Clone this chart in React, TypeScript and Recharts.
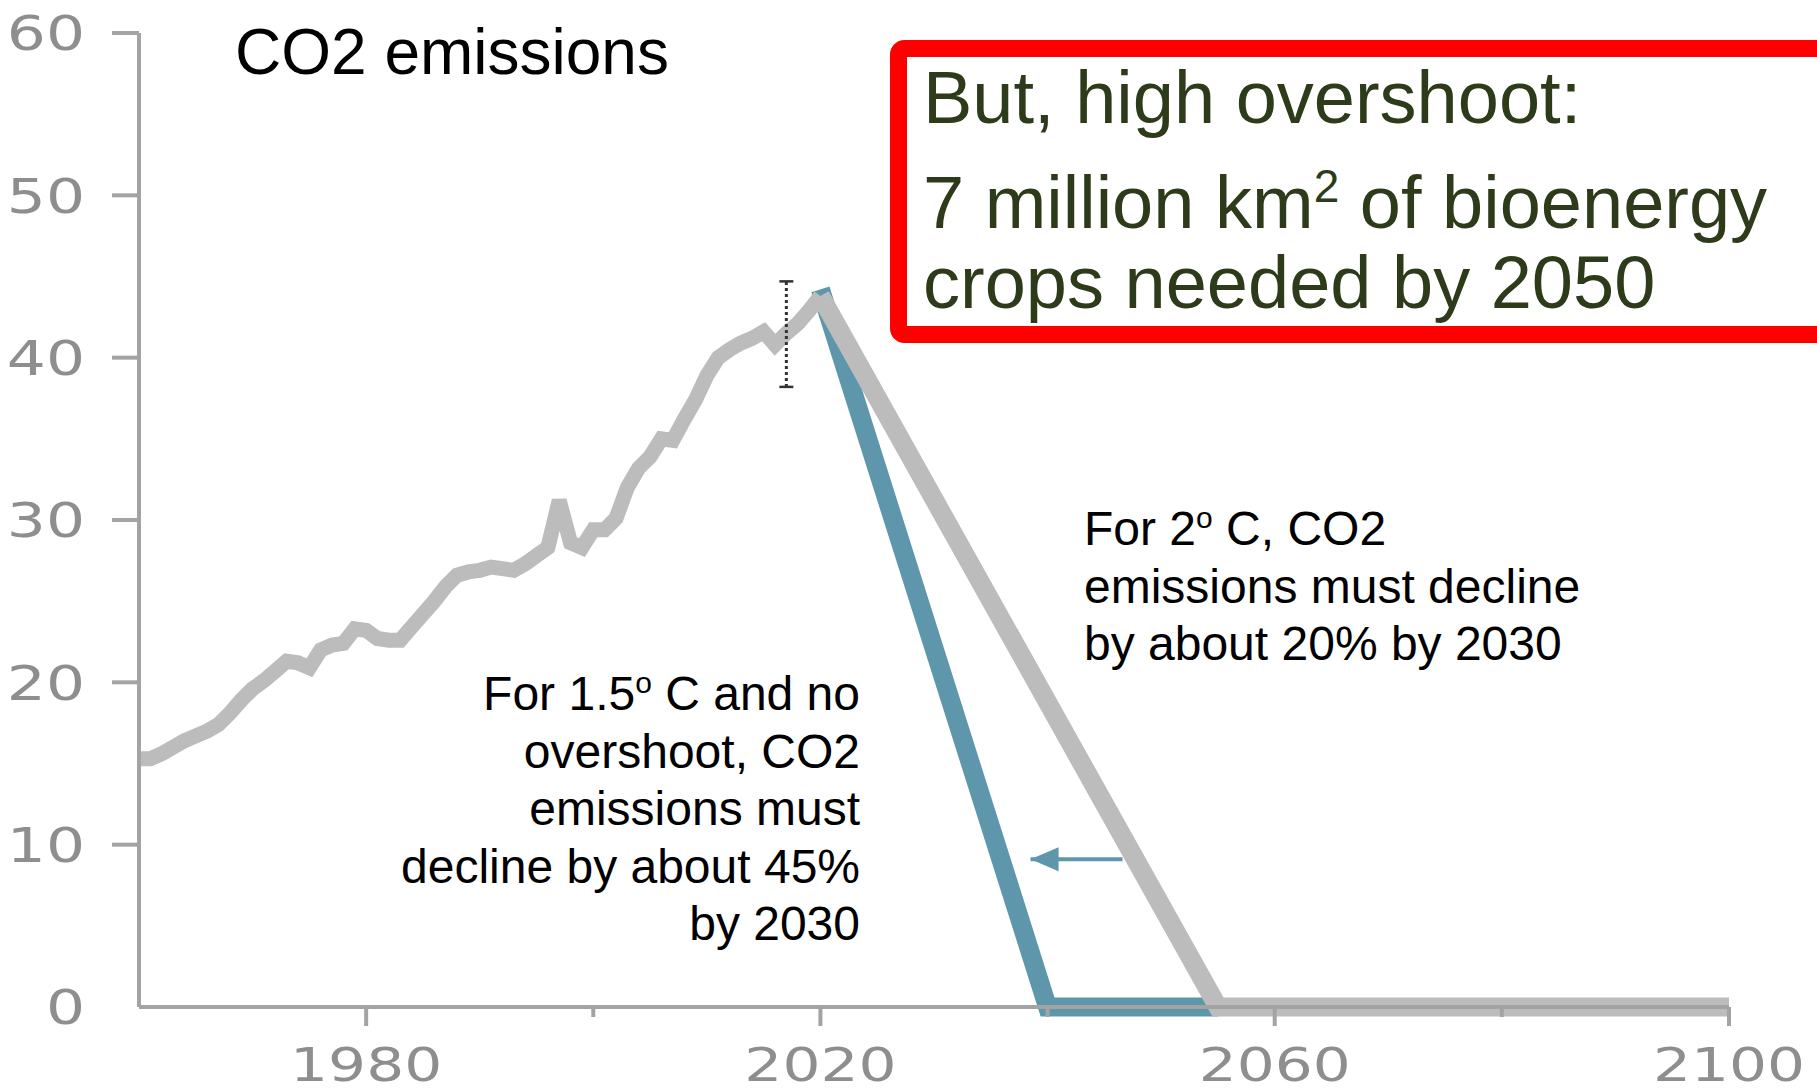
import { LineChart, Line, XAxis, YAxis } from 'recharts'

const HIST_YEARS = [
  1960, 1961, 1962, 1963, 1964, 1965, 1966, 1967, 1968, 1969,
  1970, 1971, 1972, 1973, 1974, 1975, 1976, 1977, 1978, 1979,
  1980, 1981, 1982, 1983, 1984, 1985, 1986, 1987, 1988, 1989,
  1990, 1991, 1992, 1993, 1994, 1995, 1996, 1997, 1998, 1999,
  2000, 2001, 2002, 2003, 2004, 2005, 2006, 2007, 2008, 2009,
  2010, 2011, 2012, 2013, 2014, 2015, 2016, 2017, 2018, 2019, 2020,
]
const HIST_VALUES = [
  15.3, 15.3, 15.6, 16.0, 16.4, 16.7, 17.0, 17.4, 18.1, 18.9,
  19.6, 20.1, 20.7, 21.3, 21.2, 20.9, 22.0, 22.3, 22.4, 23.3,
  23.2, 22.7, 22.6, 22.6, 23.4, 24.2, 25.0, 25.9, 26.6, 26.8,
  26.9, 27.1, 27.0, 26.9, 27.3, 27.8, 28.3, 31.2, 28.6, 28.3,
  29.4, 29.4, 30.1, 32.0, 33.2, 33.9, 35.0, 34.9, 36.2, 37.4,
  38.9, 40.0, 40.5, 40.9, 41.2, 41.6, 40.8, 41.5, 42.1, 42.9, 43.8,
]

// 2 degree pathway (grey) and 1.5 degree pathway (blue)
const PATH_2C_YEARS = [2020, 2055, 2100]
const PATH_2C_VALUES = [43.8, 0, 0]
const PATH_15C_YEARS = [2020, 2040, 2055]
const PATH_15C_VALUES = [44.2, 0, 0]

// dotted uncertainty range
const RANGE_YEARS = [2017, 2017]
const RANGE_VALUES = [38.2, 44.7]

// arrow from grey to blue line
const ARROW_YEARS = [2046.6, 2038.5]
const ARROW_VALUES = [9.1, 9.1]

const Y_TICKS = [0, 10, 20, 30, 40, 50, 60]
const X_TICKS = [1980, 2000, 2020, 2040, 2060, 2080, 2100]
const X_LABELS = [1980, 2020, 2060, 2100]

const GREY = '#bcbcbc'
const BLUE = '#5e97ac'
const AXIS = '#a3a3a3'
const TICK_TEXT = '#8e8e8e'
const BOX_TEXT = '#2d3b1b'

const toRows = (years: number[], values: number[]) =>
  years.map((year, i) => ({ year, v: values[i] }))

const history = toRows(HIST_YEARS, HIST_VALUES)
const path2c = toRows(PATH_2C_YEARS, PATH_2C_VALUES)
const path15c = toRows(PATH_15C_YEARS, PATH_15C_VALUES)
const range = toRows(RANGE_YEARS, RANGE_VALUES)
const arrow = toRows(ARROW_YEARS, ARROW_VALUES)

function YTick({ x, y, payload }: any) {
  return (
    <g>
      {payload.value !== 0 && (
        <line x1={x - 27} x2={x} y1={y} y2={y} stroke={AXIS} strokeWidth={4} />
      )}
      <text
        transform={`translate(${x - 54},${y}) scale(1.28,1)`}
        textAnchor="end"
        dy="0.36em"
        fill={TICK_TEXT}
        fontSize={48}
        fontFamily="DejaVu Sans"
      >
        {payload.value}
      </text>
    </g>
  )
}

function XTick({ x, y, payload }: any) {
  const labeled = X_LABELS.includes(payload.value)
  return (
    <g>
      <line x1={x} x2={x} y1={y} y2={y + (labeled ? 19 : 10)} stroke={AXIS} strokeWidth={4} />
      {labeled && (
        <text
          transform={`translate(${x},${y + 74}) scale(1.3,1)`}
          textAnchor="middle"
          fill={TICK_TEXT}
          fontSize={46}
          fontFamily="DejaVu Sans"
        >
          {payload.value}
        </text>
      )}
    </g>
  )
}

function RangeCap({ cx, cy, index }: any) {
  return <line key={index} x1={cx - 7} x2={cx + 7} y1={cy} y2={cy} stroke="#333" strokeWidth={2.5} />
}

function ArrowHead({ cx, cy, index }: any) {
  if (index !== 1) return <g key={index} />
  return <polygon key={index} points={`${cx},${cy} ${cx + 28},${cy - 12} ${cx + 28},${cy + 12}`} fill={BLUE} />
}

const SANS = 'Liberation Sans, Arial, sans-serif'

export default function App() {
  return (
    <div style={{ position: 'absolute', left: 0, top: 0, width: 1817, height: 1091, overflow: 'hidden', background: '#fff' }}>
      <LineChart width={1817} height={1091} margin={{ top: 33, right: 88, bottom: 0, left: 0 }}>
        <XAxis
          type="number"
          dataKey="year"
          domain={[1960, 2100]}
          ticks={X_TICKS}
          height={84}
          tickSize={0}
          tickMargin={0}
          tickLine={false}
          axisLine={{ stroke: AXIS, strokeWidth: 4 }}
          tick={<XTick />}
          allowDuplicatedCategory={false}
        />
        <YAxis
          type="number"
          domain={[0, 60]}
          ticks={Y_TICKS}
          width={139}
          tickSize={0}
          tickMargin={0}
          tickLine={false}
          axisLine={{ stroke: AXIS, strokeWidth: 4 }}
          tick={<YTick />}
        />
        <Line data={path15c} dataKey="v" type="linear" stroke={BLUE} strokeWidth={19} dot={false} isAnimationActive={false} />
        <Line data={path2c} dataKey="v" type="linear" stroke={GREY} strokeWidth={19} dot={false} isAnimationActive={false} />
        <Line data={history} dataKey="v" type="linear" stroke={GREY} strokeWidth={15} dot={false} isAnimationActive={false} />
        <Line data={range} dataKey="v" type="linear" stroke="#333" strokeWidth={3} strokeDasharray="3 3" dot={<RangeCap />} isAnimationActive={false} />
        <Line data={arrow} dataKey="v" type="linear" stroke={BLUE} strokeWidth={4} dot={<ArrowHead />} isAnimationActive={false} />
      </LineChart>

      <svg width={1817} height={1091} style={{ position: 'absolute', left: 0, top: 0, pointerEvents: 'none' }}>
        <text x={235} y={74} fontSize={64} fontFamily={SANS} fill="#000">CO2 emissions</text>

        <rect x={898.5} y={48.5} width={1000} height={286} rx={6} fill="none" stroke="#ff0000" strokeWidth={17} />
        <g fontFamily={SANS} fontSize={74} fill={BOX_TEXT}>
          <text x={923} y={123}>But, high overshoot:</text>
          <text x={923} y={228}>
            7 million km<tspan fontSize={46} dy={-26}>2</tspan>
            <tspan dy={26}> of bioenergy</tspan>
          </text>
          <text x={923} y={308}>crops needed by 2050</text>
        </g>

        <g fontFamily={SANS} fontSize={48} fill="#000" textAnchor="end">
          <text x={860} y={710}>
            For 1.5<tspan fontSize={30} dy={-17}>o</tspan>
            <tspan dy={17}> C and no</tspan>
          </text>
          <text x={860} y={767.5}>overshoot, CO2</text>
          <text x={860} y={825}>emissions must</text>
          <text x={860} y={882.5}>decline by about 45%</text>
          <text x={860} y={940}>by 2030</text>
        </g>

        <g fontFamily={SANS} fontSize={48} fill="#000">
          <text x={1084} y={545}>
            For 2<tspan fontSize={30} dy={-17}>o</tspan>
            <tspan dy={17}> C, CO2</tspan>
          </text>
          <text x={1084} y={602.5}>emissions must decline</text>
          <text x={1084} y={660}>by about 20% by 2030</text>
        </g>
      </svg>
    </div>
  )
}
